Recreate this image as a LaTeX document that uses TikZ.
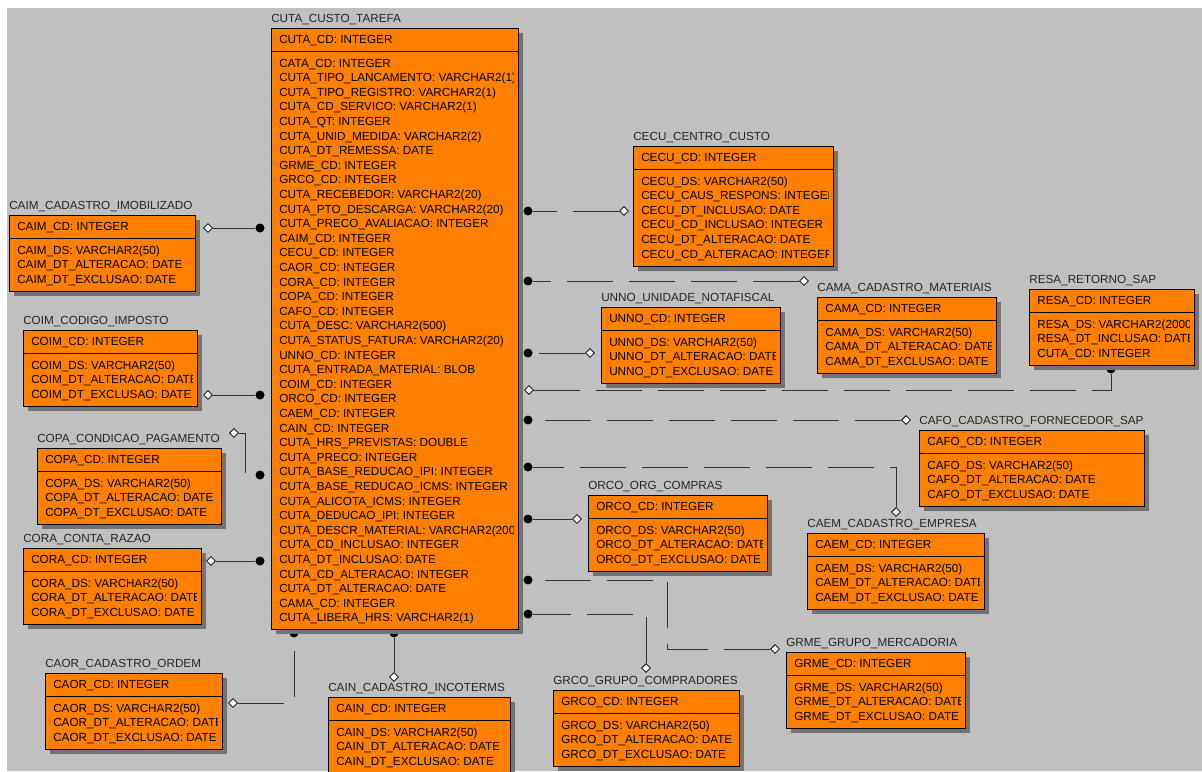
\documentclass[tikz,border=0pt]{standalone}
\usepackage{fontspec}
\setmainfont{Liberation Sans}
\usetikzlibrary{shapes.geometric, calc}
\definecolor{laranja}{HTML}{FF8000}
\definecolor{cinza}{HTML}{C0C0C0}
\pgfdeclarelayer{fundo}
\pgfdeclarelayer{linhas}
\pgfsetlayers{fundo,linhas,main}
\tikzset{
	tabela/.style={draw=black, fill=laranja, line width=0.75pt, rectangle, inner sep=0pt},
	sombra/.style={fill=black!55},
	titulo/.style={anchor=base west, inner sep=0pt, text=black!85, font=\fontsize{8.8}{10}\selectfont},
	campo/.style={anchor=base west, inner sep=0pt, font=\fontsize{8.8}{10}\selectfont},
	ligacao/.style={draw=black!80, line width=0.75pt, dash pattern=on 34.5pt off 12pt},
	bola/.style={circle, fill=black, inner sep=0pt, minimum size=6.75pt},
	losango/.style={diamond, draw=black, fill=white, line width=0.6pt, inner sep=0pt, minimum size=6.75pt},
}
% #1 nome, (#2,#3) canto superior esquerdo, #4 largura, #5 linhas, #6 titulo, #7 chave, #8 atributos
\newcommand{\entidade}[8]{%
	\pgfmathsetmacro{\altura}{46.5+14.6*(#5-1)}
	\fill[sombra] (#2+5,#3+5) rectangle ++(#4,\altura);
	\node[tabela, anchor=north west, minimum width=#4*0.75pt, minimum height=\altura*0.75pt] (#1) at (#2,#3) {};
	\draw[line width=0.75pt] (#2,#3+23.5) -- ++(#4,0);
	\node[titulo] (#1-t) at (#2,#3-6) {#6};
	\begin{scope}
		\clip (#2,#3) rectangle ++(#4-5,\altura);
		\node[campo] (#1-k) at (#2+8,#3+15.5) {#7};
		\foreach \a [count=\i] in {#8}
			\node[campo] (#1-\i) at (#2+8,#3+24.4+14.6*\i) {\a};
	\end{scope}
}
\begin{document}
\catcode`\_=12
\begin{tikzpicture}[x=0.75pt, y=-0.75pt]
	\useasboundingbox (0,0) rectangle (1202,771);
	\begin{pgfonlayer}{fundo}
		\fill[white] (0,0) rectangle (1202,771);
		\fill[cinza] (7,8) rectangle (1202,771);
	\end{pgfonlayer}

	\entidade{cuta}{271}{28}{247}{39}{CUTA_CUSTO_TAREFA}{CUTA_CD: INTEGER}{CATA_CD: INTEGER,
		CUTA_TIPO_LANCAMENTO: VARCHAR2(1), CUTA_TIPO_REGISTRO: VARCHAR2(1), CUTA_CD_SERVICO: VARCHAR2(1),
		CUTA_QT: INTEGER, CUTA_UNID_MEDIDA: VARCHAR2(2), CUTA_DT_REMESSA: DATE, GRME_CD: INTEGER,
		GRCO_CD: INTEGER, CUTA_RECEBEDOR: VARCHAR2(20), CUTA_PTO_DESCARGA: VARCHAR2(20),
		CUTA_PRECO_AVALIACAO: INTEGER, CAIM_CD: INTEGER, CECU_CD: INTEGER, CAOR_CD: INTEGER,
		CORA_CD: INTEGER, COPA_CD: INTEGER, CAFO_CD: INTEGER, CUTA_DESC: VARCHAR2(500),
		CUTA_STATUS_FATURA: VARCHAR2(20), UNNO_CD: INTEGER, CUTA_ENTRADA_MATERIAL: BLOB,
		COIM_CD: INTEGER, ORCO_CD: INTEGER, CAEM_CD: INTEGER, CAIN_CD: INTEGER,
		CUTA_HRS_PREVISTAS: DOUBLE, CUTA_PRECO: INTEGER, CUTA_BASE_REDUCAO_IPI: INTEGER,
		CUTA_BASE_REDUCAO_ICMS: INTEGER, CUTA_ALICOTA_ICMS: INTEGER, CUTA_DEDUCAO_IPI: INTEGER,
		CUTA_DESCR_MATERIAL: VARCHAR2(2000), CUTA_CD_INCLUSAO: INTEGER, CUTA_DT_INCLUSAO: DATE,
		CUTA_CD_ALTERACAO: INTEGER, CUTA_DT_ALTERACAO: DATE, CAMA_CD: INTEGER, CUTA_LIBERA_HRS: VARCHAR2(1)}

	% a esquerda
	\entidade{caim}{9}{215}{186}{3}{CAIM_CADASTRO_IMOBILIZADO}{CAIM_CD: INTEGER}{CAIM_DS: VARCHAR2(50), CAIM_DT_ALTERACAO: DATE, CAIM_DT_EXCLUSAO: DATE}
	\entidade{coim}{23}{330}{174}{3}{COIM_CODIGO_IMPOSTO}{COIM_CD: INTEGER}{COIM_DS: VARCHAR2(50), COIM_DT_ALTERACAO: DATE, COIM_DT_EXCLUSAO: DATE}
	\entidade{copa}{37}{448}{184}{3}{COPA_CONDICAO_PAGAMENTO}{COPA_CD: INTEGER}{COPA_DS: VARCHAR2(50), COPA_DT_ALTERACAO: DATE, COPA_DT_EXCLUSAO: DATE}
	\entidade{cora}{23}{548}{178}{3}{CORA_CONTA_RAZAO}{CORA_CD: INTEGER}{CORA_DS: VARCHAR2(50), CORA_DT_ALTERACAO: DATE, CORA_DT_EXCLUSAO: DATE}
	\entidade{caor}{45}{673}{177}{3}{CAOR_CADASTRO_ORDEM}{CAOR_CD: INTEGER}{CAOR_DS: VARCHAR2(50), CAOR_DT_ALTERACAO: DATE, CAOR_DT_EXCLUSAO: DATE}
	\entidade{cain}{328}{697}{182}{3}{CAIN_CADASTRO_INCOTERMS}{CAIN_CD: INTEGER}{CAIN_DS: VARCHAR2(50), CAIN_DT_ALTERACAO: DATE, CAIN_DT_EXCLUSAO: DATE}

	% a direita
	\entidade{cecu}{633}{146}{200}{6}{CECU_CENTRO_CUSTO}{CECU_CD: INTEGER}{CECU_DS: VARCHAR2(50), CECU_CAUS_RESPONS: INTEGER, CECU_DT_INCLUSAO: DATE, CECU_CD_INCLUSAO: INTEGER, CECU_DT_ALTERACAO: DATE, CECU_CD_ALTERACAO: INTEGER}
	\entidade{unno}{601}{307}{179}{3}{UNNO_UNIDADE_NOTAFISCAL}{UNNO_CD: INTEGER}{UNNO_DS: VARCHAR2(50), UNNO_DT_ALTERACAO: DATE, UNNO_DT_EXCLUSAO: DATE}
	\entidade{cama}{817}{297}{179}{3}{CAMA_CADASTRO_MATERIAIS}{CAMA_CD: INTEGER}{CAMA_DS: VARCHAR2(50), CAMA_DT_ALTERACAO: DATE, CAMA_DT_EXCLUSAO: DATE}
	\entidade{resa}{1029}{289}{165}{3}{RESA_RETORNO_SAP}{RESA_CD: INTEGER}{RESA_DS: VARCHAR2(2000), RESA_DT_INCLUSAO: DATE, CUTA_CD: INTEGER}
	\entidade{cafo}{919}{430}{225}{3}{CAFO_CADASTRO_FORNECEDOR_SAP}{CAFO_CD: INTEGER}{CAFO_DS: VARCHAR2(50), CAFO_DT_ALTERACAO: DATE, CAFO_DT_EXCLUSAO: DATE}
	\entidade{orco}{588}{495}{179}{3}{ORCO_ORG_COMPRAS}{ORCO_CD: INTEGER}{ORCO_DS: VARCHAR2(50), ORCO_DT_ALTERACAO: DATE, ORCO_DT_EXCLUSAO: DATE}
	\entidade{caem}{807}{533}{177}{3}{CAEM_CADASTRO_EMPRESA}{CAEM_CD: INTEGER}{CAEM_DS: VARCHAR2(50), CAEM_DT_ALTERACAO: DATE, CAEM_DT_EXCLUSAO: DATE}
	\entidade{grme}{786}{652}{179}{3}{GRME_GRUPO_MERCADORIA}{GRME_CD: INTEGER}{GRME_DS: VARCHAR2(50), GRME_DT_ALTERACAO: DATE, GRME_DT_EXCLUSAO: DATE}
	\entidade{grco}{553}{690}{186}{3}{GRCO_GRUPO_COMPRADORES}{GRCO_CD: INTEGER}{GRCO_DS: VARCHAR2(50), GRCO_DT_ALTERACAO: DATE, GRCO_DT_EXCLUSAO: DATE}

	\begin{pgfonlayer}{linhas}
		% pontas dos relacionamentos
		\node[bola] (b-caim) at (260,228) {};   \node[losango] (l-caim) at (208,228) {};
		\node[bola] (b-coim) at (260,395) {};   \node[losango] (l-coim) at (208,395) {};
		\node[bola] (b-copa) at (260,475) {};   \node[losango] (l-copa) at (234,433) {};
		\node[bola] (b-cora) at (260,561) {};   \node[losango] (l-cora) at (211,561) {};
		\node[bola] (b-caor) at (294,633) {};   \node[losango] (l-caor) at (233,703) {};
		\node[bola] (b-cain) at (394,633) {};   \node[losango] (l-cain) at (394,677) {};
		\node[bola] (b-cecu) at (528,211) {};   \node[losango] (l-cecu) at (624,211) {};
		\node[bola] (b-cama) at (528,281) {};   \node[losango] (l-cama) at (804,281) {};
		\node[bola] (b-unno) at (528,353) {};   \node[losango] (l-unno) at (590,353) {};
		\node[bola] (b-resa) at (1111,369) {};  \node[losango] (l-resa) at (529,390) {};
		\node[bola] (b-cafo) at (528,420) {};   \node[losango] (l-cafo) at (906,420) {};
		\node[bola] (b-caem) at (528,467) {};   \node[losango] (l-caem) at (896,512) {};
		\node[bola] (b-orco) at (528,519) {};   \node[losango] (l-orco) at (577,519) {};
		\node[bola] (b-grme) at (528,580) {};   \node[losango] (l-grme) at (775,649) {};
		\node[bola] (b-grco) at (528,614) {};   \node[losango] (l-grco) at (646,668) {};
		\coordinate (q-copa) at (245,475);
		\coordinate (q-grme) at (667,580);

		\draw[ligacao] (l-caim) -- (b-caim);
		\draw[ligacao] (l-coim) -- (b-coim);
		\draw[ligacao] (l-copa) -| (q-copa) -- (b-copa);
		\draw[ligacao] (l-cora) -- (b-cora);
		\draw[ligacao] (l-caor) -| (b-caor);
		\draw[ligacao] (l-cain) -- (b-cain);
		\draw[ligacao] (l-cecu) -- (b-cecu);
		\draw[ligacao] (l-cama) -- (b-cama);
		\draw[ligacao] (l-unno) -- (b-unno);
		\draw[ligacao] (l-resa) -| (b-resa);
		\draw[ligacao] (l-cafo) -- (b-cafo);
		\draw[ligacao] (l-caem) |- (b-caem);
		\draw[ligacao] (l-orco) -- (b-orco);
		\draw[ligacao] (l-grme) -| (q-grme) -- (b-grme);
		\draw[ligacao] (l-grco) |- (b-grco);
	\end{pgfonlayer}
\end{tikzpicture}
\end{document}
